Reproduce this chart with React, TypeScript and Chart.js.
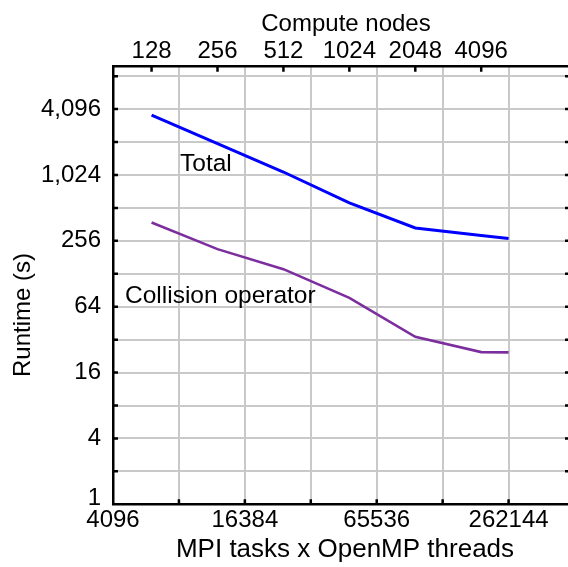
import React, { useEffect, useRef } from "react";
import { Chart, registerables } from "chart.js";

Chart.register(...registerables);

// MPI tasks x OpenMP threads (x positions of the runs)
const mpiThreads = [6144, 12288, 24576, 49152, 98304, 196608, 262144];
const totalRuntime = [3600, 1980, 1090, 570, 336, 287, 269];
const collisionRuntime = [377, 215, 141, 77, 34, 24.6, 24.5];

const bottomTicks = [4096, 8192, 16384, 32768, 65536, 131072, 262144];
const bottomLabels = [4096, 16384, 65536, 262144];
const computeNodes = [128, 256, 512, 1024, 2048, 4096];
const coresPerNode = 48;
const yTicks = [1, 2, 4, 8, 16, 32, 64, 128, 256, 512, 1024, 2048, 4096, 8192];
const yLabels = [4, 16, 64, 256, 1024, 4096];

const FONT = "'Liberation Sans', Arial, Helvetica, sans-serif";

export default function App() {
  const ref = useRef<HTMLCanvasElement | null>(null);

  useEffect(() => {
    const canvas = ref.current!;
    const gridColor = "#c9c9c9";

    const decorations = {
      id: "decorations",
      afterDraw(chart: any) {
        const ctx = chart.ctx;
        const area = chart.chartArea;
        const xs = chart.scales.x;
        const xt = chart.scales.x2;
        const ys = chart.scales.y;
        ctx.save();
        ctx.strokeStyle = "#000";
        ctx.lineWidth = 2.5;
        ctx.beginPath();
        yTicks.forEach((v) => {
          const p = ys.getPixelForValue(v);
          if (v === 1) return;
          ctx.moveTo(area.left, p);
          ctx.lineTo(area.left + 5, p);
          ctx.moveTo(area.right, p);
          ctx.lineTo(area.right - 5, p);
        });
        bottomTicks.forEach((v) => {
          const p = xs.getPixelForValue(v);
          if (v === 4096) return;
          ctx.moveTo(p, area.bottom);
          ctx.lineTo(p, area.bottom - 5);
        });
        computeNodes.forEach((n) => {
          const p = xt.getPixelForValue(n * coresPerNode);
          ctx.moveTo(p, area.top);
          ctx.lineTo(p, area.top + 5);
        });
        ctx.stroke();

        ctx.fillStyle = "#000";
        // lowest y label, nudged up as in the original
        ctx.font = `24px ${FONT}`;
        ctx.textAlign = "right";
        ctx.textBaseline = "middle";
        ctx.fillText("1", area.left - 12, ys.getPixelForValue(1) - 6);

        ctx.textAlign = "center";
        ctx.font = `24px ${FONT}`;
        ctx.fillText("Compute nodes", 346, 24);
        ctx.font = `26px ${FONT}`;
        ctx.fillText("MPI tasks x OpenMP threads", 345, 550);
        ctx.font = `24px ${FONT}`;
        ctx.save();
        ctx.translate(23, 315);
        ctx.rotate(-Math.PI / 2);
        ctx.fillText("Runtime (s)", 0, 0);
        ctx.restore();

        ctx.font = `24.5px ${FONT}`;
        ctx.textAlign = "left";
        ctx.textBaseline = "alphabetic";
        ctx.fillText("Total", 180, 171);
        ctx.fillText("Collision operator", 125, 303);
        ctx.restore();
      },
    };

    const chart = new Chart(canvas, {
      type: "line",
      data: {
        datasets: [
          {
            label: "Total",
            data: mpiThreads.map((x, i) => ({ x, y: totalRuntime[i] })),
            borderColor: "#0000ff",
            borderWidth: 3,
            pointRadius: 0,
            tension: 0,
            xAxisID: "x",
            yAxisID: "y",
          },
          {
            label: "Collision operator",
            data: mpiThreads.map((x, i) => ({ x, y: collisionRuntime[i] })),
            borderColor: "#7d2e9e",
            borderWidth: 2.6,
            pointRadius: 0,
            tension: 0,
            xAxisID: "x",
            yAxisID: "y",
          },
        ],
      },
      options: {
        responsive: false,
        animation: false,
        devicePixelRatio: 1,
        layout: { padding: 0 },
        plugins: {
          legend: { display: false },
          tooltip: { enabled: false },
        },
        scales: {
          x: {
            type: "logarithmic",
            position: "bottom",
            min: 4096,
            max: 500000,
            afterBuildTicks: (s: any) => {
              s.ticks = bottomTicks.map((v) => ({ value: v }));
            },
            afterFit: (s: any) => {
              s.height = 62.7;
            },
            grid: { color: gridColor, lineWidth: 2, drawTicks: false },
            border: { display: true, color: "#000", width: 2.5 },
            ticks: {
              autoSkip: false,
              maxRotation: 0,
              padding: 2,
              color: "#000",
              font: { family: FONT, size: 24 },
              callback: (v: any) => (bottomLabels.includes(Number(v)) ? String(v) : ""),
            },
          },
          x2: {
            type: "logarithmic",
            position: "top",
            min: 4096,
            max: 500000,
            afterBuildTicks: (s: any) => {
              s.ticks = computeNodes.map((n) => ({ value: n * coresPerNode }));
            },
            afterFit: (s: any) => {
              s.height = 66.7;
            },
            grid: { display: false, drawTicks: false },
            border: { display: true, color: "#000", width: 2.5 },
            ticks: {
              autoSkip: false,
              maxRotation: 0,
              padding: 1,
              color: "#000",
              font: { family: FONT, size: 24 },
              callback: (v: any) => String(Math.round(Number(v) / coresPerNode)),
            },
          },
          y: {
            type: "logarithmic",
            position: "left",
            min: 1,
            max: 10000,
            afterBuildTicks: (s: any) => {
              s.ticks = yTicks.map((v) => ({ value: v }));
            },
            afterFit: (s: any) => {
              s.width = 113;
            },
            grid: { color: gridColor, lineWidth: 2, drawTicks: false },
            border: { display: true, color: "#000", width: 2.5 },
            ticks: {
              autoSkip: false,
              padding: 12,
              color: "#000",
              font: { family: FONT, size: 24 },
              callback: (v: any) =>
                yLabels.includes(Number(v)) ? Number(v).toLocaleString("en-US") : "",
            },
          },
          y2: {
            type: "logarithmic",
            position: "right",
            min: 1,
            max: 10000,
            afterFit: (s: any) => {
              s.width = 6;
            },
            grid: { display: false, drawTicks: false },
            border: { display: true, color: "#000", width: 2.5 },
            ticks: { display: false },
          },
        },
      },
      plugins: [decorations],
    });
    return () => chart.destroy();
  }, []);

  return (
    <div
      style={{
        position: "fixed",
        left: 0,
        top: 0,
        width: 568,
        height: 567,
        overflow: "hidden",
        background: "#fff",
      }}
    >
      <canvas ref={ref} width={576} height={567} style={{ width: 576, height: 567, display: "block" }} />
    </div>
  );
}
